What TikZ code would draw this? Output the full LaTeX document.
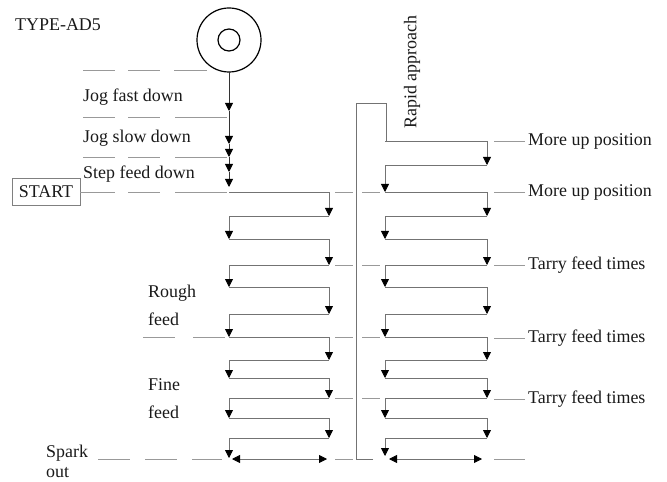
\documentclass[tikz,border=0pt]{standalone}
\usepackage{fontspec}
\setmainfont{Liberation Serif}
\usetikzlibrary{arrows.meta}
\tikzset{
	feed/.style={draw=black!55, line width=0.8bp},
	guide/.style={draw=black!40, line width=0.7bp},
	lbl/.style={anchor=west, inner sep=0pt, text=black!90, font=\fontsize{18}{28}\selectfont},
	>={Triangle[width=8bp,length=8bp,color=black]}
}
\def\feedcol#1#2#3{\foreach \ya/\yb/\yc in {#3} {
		\draw[feed,->] (#1,\ya) -- (#2,\ya) -- (#2,\yb);
		\draw[feed,->] (#2,\yb) -- (#1,\yb) -- (#1,\yc);
	}}

\begin{document}
\begin{tikzpicture}[x=1bp, y=-1bp]
			%%%%% START %%%%%
			\useasboundingbox (0,0) rectangle (667,482);
			
			\draw[line width=1.2bp] (229,40) circle (32bp);
			\draw[line width=1.2bp] (229,40) circle (11bp);
			
			\node[lbl] (type) at (15,25) {TYPE-AD5};
			\node[lbl] (jogfast) at (83,97) {Jog fast down};
			\node[lbl] (jogslow) at (83,138) {Jog slow down};
			\node[lbl] (stepfeed) at (83,174) {Step feed down};
			\node[lbl, anchor=center, draw=black!50, line width=0.7bp, minimum width=68bp, minimum height=27bp] (start) at (46,192) {START};
			\node[lbl, align=left] (rough) at (148,305) {Rough\\feed};
			\node[lbl, align=left] (fine) at (148,399) {Fine\\feed};
			\node[lbl, align=left, font=\fontsize{18}{20}\selectfont] (spark) at (46,461) {Spark\\out};
			\node[lbl, anchor=center, rotate=90] (rapid) at (412,72) {Rapid approach};
			
			\node[lbl] (moreup1) at (528,141) {More up position};
			\node[lbl] (moreup2) at (528,192) {More up position};
			\node[lbl] (tarry1) at (528,265) {Tarry feed times};
			\node[lbl] (tarry2) at (528,338) {Tarry feed times};
			\node[lbl] (tarry3) at (528,399) {Tarry feed times};
			
			\foreach \n in {moreup1,moreup2,tarry1,tarry2,tarry3}
				\draw[guide] ([xshift=-34bp]\n.west) -- ([xshift=-3bp]\n.west);
			\draw[guide] (494,459) -- (525,459);
			
			\draw[guide] (83,70) -- (115,70) (128,70) -- (160,70) (174,70) -- (207,70);
			\foreach \y in {117,157}
				\draw[guide] (83,\y) -- (115,\y) (128,\y) -- (160,\y) (175,\y) -- (227,\y);
			\draw[guide] (start.east) -- (115,192) (128,192) -- (160,192) (175,192) -- (227,192);
			\draw[guide] (143,337) -- (175,337) (193,337) -- (225,337);
			\draw[guide] (98,459) -- (130,459) (145,459) -- (177,459) (192,459) -- (222,459);
			\foreach \y in {192,265,337,398}
				\draw[guide] (335,\y) -- (353,\y) (362,\y) -- (380,\y);
			\draw[guide] (335,459) -- (353,459);
			
			\draw[draw=black!80, line width=0.9bp, ->] (229,72) -- (229,111);
			\draw[draw=black!80, line width=0.9bp, ->] (229,111) -- (229,144);
			\draw[draw=black!80, line width=0.9bp, ->] (229,144) -- (229,157);
			\draw[draw=black!80, line width=0.9bp, ->] (229,157) -- (229,172);
			\draw[draw=black!80, line width=0.9bp, ->] (229,172) -- (229,187);
			
			\feedcol{229}{329}{192/216/239, 239/265/287, 287/314/337, 337/360/378, 378/398/418, 418/438/458}
			\draw[feed] (373,459) -- (356,459) -- (356,103) -- (386,103) -- (386,141) -- (487,141);
			\feedcol{385}{487}{141/165/192, 192/216/239, 239/265/287, 287/314/337, 337/360/378, 378/398/418, 418/438/456}
			
			\draw[feed,<->] (232,459) -- (327,459);
			\draw[feed,<->] (389,459) -- (482,459);
			
			%%%%% END %%%%%
\end{tikzpicture}
\end{document}
